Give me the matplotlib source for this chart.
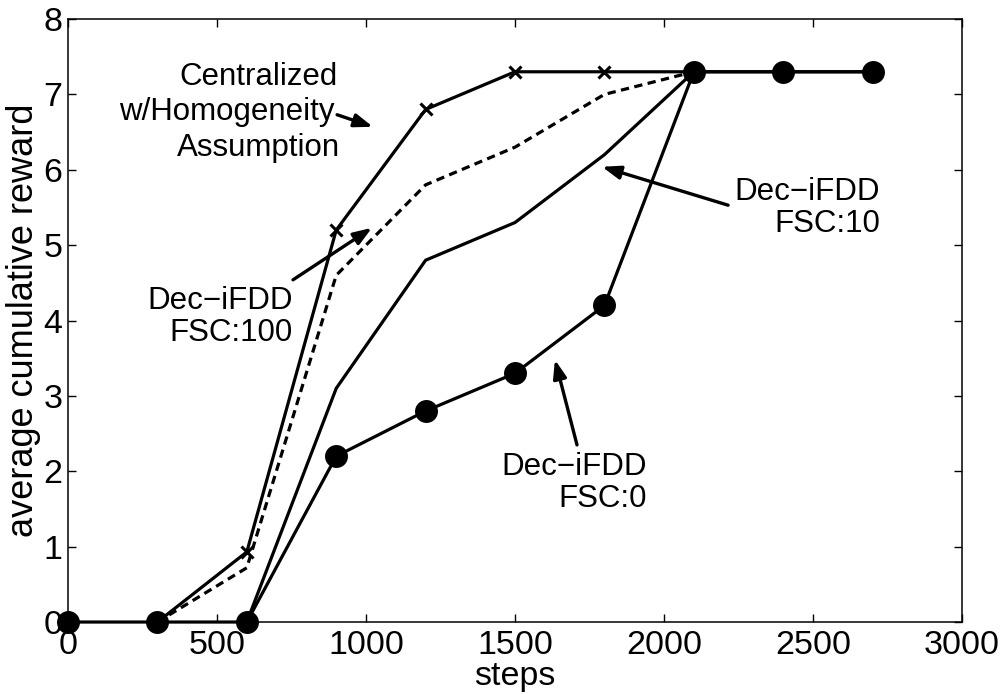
import numpy as np
import matplotlib.pyplot as plt

plt.rcParams['font.family'] = ['Liberation Sans', 'DejaVu Sans']

# steps at which the reward was measured
steps = [0, 300, 600, 900, 1200, 1500, 1800, 2100, 2400, 2700]

# average cumulative reward for each approach
centralized = [0, 0, 0.93, 5.2, 6.8, 7.3, 7.3, 7.3, 7.3, 7.3]
fsc100 = [0, 0, 0.72, 4.6, 5.8, 6.3, 7.0, 7.3]
fsc10 = [0, 0, 0, 3.1, 4.8, 5.3, 6.2, 7.3]
fsc0 = [0, 0, 0, 2.2, 2.8, 3.3, 4.2, 7.3, 7.3, 7.3]

fig = plt.figure(figsize=(10.06, 6.94), dpi=100)
ax = fig.add_axes([0.0676, 0.1037, 0.8887, 0.8689])

lw = 2.3
ax.plot(steps[1:], centralized[1:], color='black', lw=lw, marker='x',
        markersize=8, markeredgewidth=2.2, zorder=3)
ax.plot(steps[1:len(fsc100)], fsc100[1:], color='black', lw=lw,
        dashes=(2.6, 1.7), zorder=2)
ax.plot(steps[2:len(fsc10)], fsc10[2:], color='black', lw=lw, zorder=2)
ax.plot(steps, fsc0, color='black', lw=lw, marker='o', markersize=15.5, zorder=4,
        clip_on=False)

ax.set_xlim(0, 3000)
ax.set_ylim(0, 8)
ax.set_xticks(np.arange(0, 3001, 500))
ax.set_yticks(np.arange(0, 9, 1))
ax.tick_params(direction='in', length=6, width=1, top=True, right=True,
               labelsize=24.5)
ax.tick_params(axis='x', pad=6)
ax.tick_params(axis='y', pad=4)
for s in ax.spines.values():
    s.set_linewidth(1.1)

ax.set_xlabel('steps', fontsize=24.5, labelpad=0)
ax.set_ylabel('average cumulative reward', fontsize=26, labelpad=2)

# annotations: text with an arrow pointing at its curve
arrow = dict(arrowstyle='-|>,head_length=0.55,head_width=0.2', color='black',
             lw=2.4, mutation_scale=20, shrinkA=0, shrinkB=0)
tsize = 22.5

# the middle line sits left of the other two, ending where the arrow starts
ax.text(638, 7.23, 'Centralized', ha='center', va='center', fontsize=tsize)
ax.text(896, 6.77, 'w/Homogeneity', ha='right', va='center', fontsize=tsize)
ax.text(638, 6.29, 'Assumption', ha='center', va='center', fontsize=tsize)
ax.annotate('', xy=(1023, 6.57), xytext=(903, 6.73), arrowprops=arrow)

ax.text(755, 4.05, 'Dec\u2212iFDD\nFSC:100', ha='right', va='center',
        multialignment='right', fontsize=tsize, linespacing=1.1)
ax.annotate('', xy=(1020, 5.23), xytext=(755, 4.54), arrowprops=arrow)

ax.text(2725, 5.49, 'Dec\u2212iFDD\nFSC:10', ha='right', va='center',
        multialignment='right', fontsize=tsize, linespacing=1.1)
ax.annotate('', xy=(1792, 6.04), xytext=(2215, 5.53), arrowprops=arrow)

ax.text(1943, 1.84, 'Dec\u2212iFDD\nFSC:0', ha='right', va='center',
        multialignment='right', fontsize=tsize, linespacing=1.1)
ax.annotate('', xy=(1634, 3.48), xytext=(1708, 2.35), arrowprops=arrow)

fig.savefig('out.png', dpi=100)
